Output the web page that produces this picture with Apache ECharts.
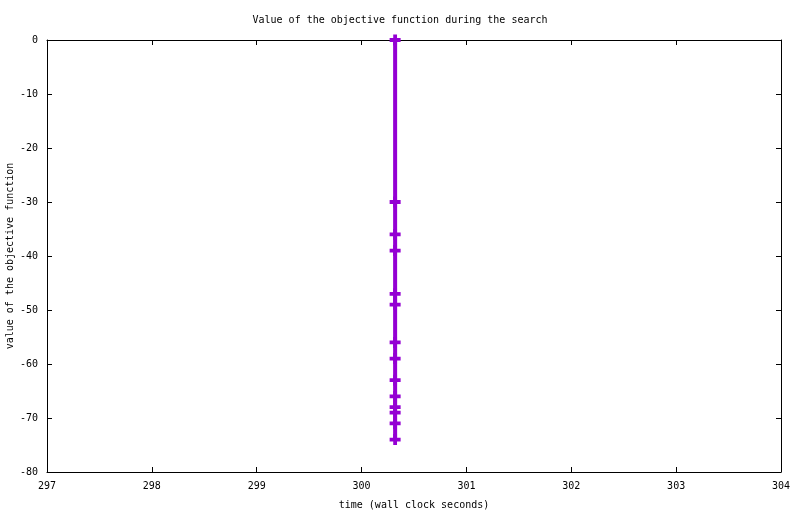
<!DOCTYPE html>
<html>
<head>
<meta charset="utf-8">
<script src="https://cdn.jsdelivr.net/npm/echarts@6/dist/echarts.min.js"></script>
<style>html,body{margin:0;padding:0;background:#fff;}#c{width:800px;height:514px;}</style>
</head>
<body>
<div id="c"></div>
<script>
var titleText = 'Value of the objective function during the search';
var xName = 'time (wall clock seconds)';
var yName = 'value of the objective function';
var times = [300.32, 300.32, 300.32, 300.32, 300.32, 300.32, 300.32, 300.32, 300.32, 300.32, 300.32, 300.32, 300.32, 300.32];
var values = [0, -30, -36, -39, -47, -49, -56, -59, -63, -66, -68, -69, -71, -74];
var xRange = [297, 304];
var yRange = [-80, 0];

var font = 'DejaVu Sans Mono';
var data = times.map(function (t, i) { return [t, values[i]]; });
var axisLine = { show: true, onZero: false, lineStyle: { color: '#000', width: 1 } };
var tick = { show: true, inside: true, length: 5, lineStyle: { color: '#000', width: 1 } };

var chart = echarts.init(document.getElementById('c'), null, { renderer: 'canvas' });
chart.setOption({
  animation: false,
  backgroundColor: '#fff',
  title: {
    text: titleText, left: 'center', top: 10,
    textStyle: { fontFamily: font, fontSize: 10, fontWeight: 'normal', color: '#000' }
  },
  grid: { left: 47, right: 19, top: 40, bottom: 42, containLabel: false, outerBoundsMode: 'none' },
  xAxis: [{
    type: 'value', min: xRange[0], max: xRange[1], interval: 1, position: 'bottom',
    name: xName, nameLocation: 'middle', nameGap: 28, nameMoveOverlap: false,
    nameTextStyle: { fontFamily: font, fontSize: 10, color: '#000' },
    axisLine: axisLine, axisTick: tick, splitLine: { show: false },
    axisLabel: { fontFamily: font, fontSize: 10, color: '#000', margin: 9 }
  }, {
    type: 'value', min: xRange[0], max: xRange[1], interval: 1, position: 'top',
    axisLine: axisLine, axisTick: tick, splitLine: { show: false }, axisLabel: { show: false }
  }],
  yAxis: [{
    type: 'value', min: yRange[0], max: yRange[1], interval: 10, position: 'left',
    name: yName, nameLocation: 'middle', nameGap: 32, nameMoveOverlap: false,
    nameTextStyle: { fontFamily: font, fontSize: 10, color: '#000' },
    axisLine: axisLine, axisTick: tick, splitLine: { show: false },
    axisLabel: { fontFamily: font, fontSize: 10, color: '#000', margin: 9 }
  }, {
    type: 'value', min: yRange[0], max: yRange[1], interval: 10, position: 'right',
    axisLine: axisLine, axisTick: tick, splitLine: { show: false }, axisLabel: { show: false }
  }],
  series: [{
    type: 'line', xAxisIndex: 0, yAxisIndex: 0, data: data, clip: false,
    lineStyle: { color: '#9400d3', width: 4 },
    itemStyle: { color: '#9400d3' },
    symbol: 'path://M3.6,0H7.4V11H3.6ZM0,3.6H11V7.4H0Z',
    symbolSize: 11, showSymbol: true, showAllSymbol: true
  }]
});
</script>
</body>
</html>
